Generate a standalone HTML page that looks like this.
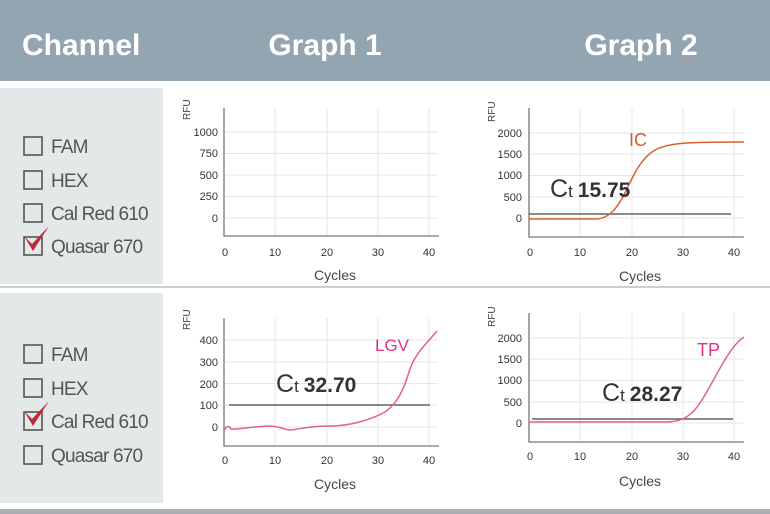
<!DOCTYPE html>
<html><head><meta charset="utf-8"><style>
html,body{margin:0;padding:0;background:#fff;}
svg{display:block;font-family:"Liberation Sans",sans-serif;}
</style></head><body>
<svg width="770" height="514" viewBox="0 0 770 514" xmlns="http://www.w3.org/2000/svg">
<rect x="0" y="0" width="770" height="81" fill="#93a5b1"/>
<text x="22" y="55" fill="#fff" font-size="30" font-weight="bold">Channel</text>
<text x="325" y="55" fill="#fff" font-size="30" font-weight="bold" text-anchor="middle">Graph 1</text>
<text x="641" y="55" fill="#fff" font-size="30" font-weight="bold" text-anchor="middle">Graph 2</text>
<rect x="0" y="88" width="163" height="196" fill="#e3e8e8"/>
<rect x="0" y="293" width="163" height="210" fill="#e3e8e8"/>
<rect x="0" y="286" width="770" height="2" fill="#c9cfd2"/>
<rect x="0" y="509" width="770" height="5" fill="#a9afb2"/>

<g font-size="19" fill="#555" stroke="none" letter-spacing="-0.8">
<g fill="none" stroke="#555" stroke-width="1.6">
<rect x="24" y="137" width="18" height="18"/><rect x="24" y="171" width="18" height="18"/><rect x="24" y="204" width="18" height="18"/><rect x="24" y="237" width="18" height="18"/>
<rect x="24" y="345" width="18" height="18"/><rect x="24" y="379" width="18" height="18"/><rect x="24" y="412" width="18" height="18"/><rect x="24" y="446" width="18" height="18"/>
</g>
<text x="51" y="153">FAM</text><text x="51" y="187">HEX</text><text x="51" y="220">Cal Red 610</text><text x="51" y="253">Quasar 670</text>
<text x="51" y="361">FAM</text><text x="51" y="395">HEX</text><text x="51" y="428">Cal Red 610</text><text x="51" y="462">Quasar 670</text>
<path d="M24 236 L32 244 L49 226 L33 251 Z" fill="#c0283c"/>
<path d="M24 411 L32 419 L49 401 L33 426 Z" fill="#c0283c"/>
</g>

<!-- Graph 1 -->
<g stroke="#e6e6e6" stroke-width="1">
<line x1="275" y1="108" x2="275" y2="236"/><line x1="327" y1="108" x2="327" y2="236"/><line x1="378" y1="108" x2="378" y2="236"/><line x1="429" y1="108" x2="429" y2="236"/>
<line x1="224" y1="132" x2="438" y2="132"/><line x1="224" y1="153.5" x2="438" y2="153.5"/><line x1="224" y1="175" x2="438" y2="175"/><line x1="224" y1="196.5" x2="438" y2="196.5"/><line x1="224" y1="218" x2="438" y2="218"/>
</g>
<path d="M224 108 V236 H439" fill="none" stroke="#777" stroke-width="1.3"/>
<g font-size="11" fill="#333" text-anchor="end">
<text x="218" y="136">1000</text><text x="218" y="157">750</text><text x="218" y="179">500</text><text x="218" y="200">250</text><text x="218" y="222">0</text></g>
<g font-size="11" fill="#333" text-anchor="middle">
<text x="225" y="256">0</text><text x="275" y="256">10</text><text x="327" y="256">20</text><text x="378" y="256">30</text><text x="429" y="256">40</text></g>
<text x="335" y="280" font-size="14" fill="#444" text-anchor="middle">Cycles</text>
<text transform="translate(190,120) rotate(-90)" font-size="10" fill="#444">RFU</text>

<!-- Graph 2 -->
<g stroke="#e6e6e6" stroke-width="1">
<line x1="580" y1="108" x2="580" y2="237"/><line x1="632" y1="108" x2="632" y2="237"/><line x1="683" y1="108" x2="683" y2="237"/><line x1="734" y1="108" x2="734" y2="237"/>
<line x1="529" y1="133" x2="744" y2="133"/><line x1="529" y1="154" x2="744" y2="154"/><line x1="529" y1="175.5" x2="744" y2="175.5"/><line x1="529" y1="197" x2="744" y2="197"/><line x1="529" y1="218" x2="744" y2="218"/>
</g>
<path d="M529 108 V237 H744" fill="none" stroke="#777" stroke-width="1.3"/>
<g font-size="11" fill="#333" text-anchor="end">
<text x="522" y="137">2000</text><text x="522" y="158">1500</text><text x="522" y="179">1000</text><text x="522" y="201">500</text><text x="522" y="222">0</text></g>
<g font-size="11" fill="#333" text-anchor="middle">
<text x="530" y="256">0</text><text x="580" y="256">10</text><text x="632" y="256">20</text><text x="683" y="256">30</text><text x="734" y="256">40</text></g>
<text x="640" y="281" font-size="14" fill="#444" text-anchor="middle">Cycles</text>
<text transform="translate(495,122) rotate(-90)" font-size="10" fill="#444">RFU</text>
<line x1="529" y1="214" x2="731" y2="214" stroke="#444" stroke-width="1.3"/>
<path d="M529 219 L595 219 C608 219 616 210 624 195 C634 174 641 158 655 150 C668 143 685 142 744 142" fill="none" stroke="#d9622b" stroke-width="1.5"/>
<text x="629" y="146" font-size="18" fill="#d35a2a">IC</text>
<text x="550" y="197" font-size="25" fill="#333">C<tspan font-size="17">t</tspan><tspan font-size="21" font-weight="bold" dx="5">15.75</tspan></text>

<!-- Graph 3 -->
<g stroke="#e6e6e6" stroke-width="1">
<line x1="275" y1="318" x2="275" y2="446"/><line x1="327" y1="318" x2="327" y2="446"/><line x1="378" y1="318" x2="378" y2="446"/><line x1="429" y1="318" x2="429" y2="446"/>
<line x1="224" y1="340" x2="438" y2="340"/><line x1="224" y1="362" x2="438" y2="362"/><line x1="224" y1="383.5" x2="438" y2="383.5"/><line x1="224" y1="405" x2="438" y2="405"/><line x1="224" y1="427" x2="438" y2="427"/>
</g>
<path d="M224 318 V446 H439" fill="none" stroke="#777" stroke-width="1.3"/>
<g font-size="11" fill="#333" text-anchor="end">
<text x="218" y="344">400</text><text x="218" y="366">300</text><text x="218" y="388">200</text><text x="218" y="409">100</text><text x="218" y="431">0</text></g>
<g font-size="11" fill="#333" text-anchor="middle">
<text x="225" y="464">0</text><text x="275" y="464">10</text><text x="327" y="464">20</text><text x="378" y="464">30</text><text x="429" y="464">40</text></g>
<text x="335" y="489" font-size="14" fill="#444" text-anchor="middle">Cycles</text>
<text transform="translate(190,330) rotate(-90)" font-size="10" fill="#444">RFU</text>
<line x1="229" y1="405" x2="430" y2="405" stroke="#444" stroke-width="1.3"/>
<path d="M224 431 C226 426 229 425 231 429 C233 430 250 427 268 426 C280 426 285 430 290 430 C300 429 310 426 330 426 C350 426 370 420 385 412 C395 405 402 395 409 372 C414 355 425 345 437 331" fill="none" stroke="#e4608a" stroke-width="1.5"/>
<text x="375" y="351" font-size="17" fill="#e0318a">LGV</text>
<text x="276" y="392" font-size="25" fill="#333">C<tspan font-size="17">t</tspan><tspan font-size="21" font-weight="bold" dx="5">32.70</tspan></text>

<!-- Graph 4 -->
<g stroke="#e6e6e6" stroke-width="1">
<line x1="580" y1="313" x2="580" y2="442"/><line x1="632" y1="313" x2="632" y2="442"/><line x1="683" y1="313" x2="683" y2="442"/><line x1="734" y1="313" x2="734" y2="442"/>
<line x1="529" y1="338" x2="744" y2="338"/><line x1="529" y1="359" x2="744" y2="359"/><line x1="529" y1="380.5" x2="744" y2="380.5"/><line x1="529" y1="402" x2="744" y2="402"/><line x1="529" y1="423" x2="744" y2="423"/>
</g>
<path d="M529 313 V442 H744" fill="none" stroke="#777" stroke-width="1.3"/>
<g font-size="11" fill="#333" text-anchor="end">
<text x="522" y="342">2000</text><text x="522" y="363">1500</text><text x="522" y="384">1000</text><text x="522" y="406">500</text><text x="522" y="427">0</text></g>
<g font-size="11" fill="#333" text-anchor="middle">
<text x="530" y="460">0</text><text x="580" y="460">10</text><text x="632" y="460">20</text><text x="683" y="460">30</text><text x="734" y="460">40</text></g>
<text x="640" y="486" font-size="14" fill="#444" text-anchor="middle">Cycles</text>
<text transform="translate(495,327) rotate(-90)" font-size="10" fill="#444">RFU</text>
<line x1="532" y1="419" x2="733" y2="419" stroke="#444" stroke-width="1.3"/>
<path d="M529 422 L665 422 C680 422 690 418 700 403 C710 388 718 370 728 355 C734 346 738 341 744 337" fill="none" stroke="#e4608a" stroke-width="1.5"/>
<text x="697" y="356" font-size="18" fill="#e0318a">TP</text>
<text x="602" y="401" font-size="25" fill="#333">C<tspan font-size="17">t</tspan><tspan font-size="21" font-weight="bold" dx="5">28.27</tspan></text>
</svg>
</body></html>
